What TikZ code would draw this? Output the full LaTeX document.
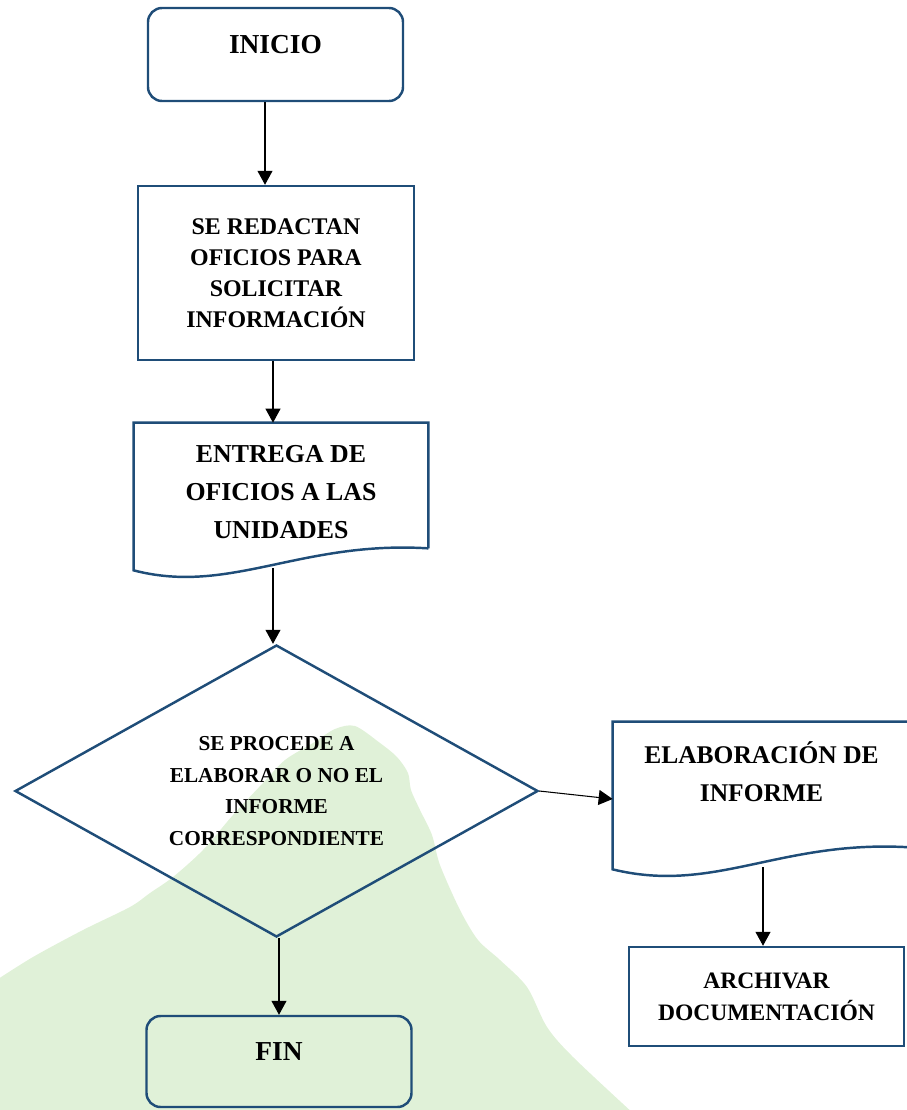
\documentclass[tikz,border=0pt]{standalone}
\usepackage{fontspec}
\setmainfont{Liberation Serif}
\usetikzlibrary{positioning, arrows.meta, shapes.geometric}

\definecolor{lineblue}{RGB}{31,77,120}
\definecolor{bggreen}{RGB}{224,241,216}

\begin{document}
\begin{tikzpicture}[
      box/.style={draw=lineblue, line width=1.4pt, align=center,
                  font=\bfseries\fontsize{13.6}{17.6}\selectfont},
      term/.style={box, rounded corners=8pt, text depth=0.4cm,
                   font=\bfseries\fontsize{15.6}{19}\selectfont},
      doc/.style={align=center, inner sep=0pt,
                  font=\bfseries\fontsize{14.7}{21.5}\selectfont},
      dec/.style={draw=lineblue, line width=1.4pt, diamond, aspect=1.79,
                  inner sep=0pt, align=center,
                  font=\bfseries\fontsize{12.1}{18.1}\selectfont},
      frame/.style={draw=lineblue, line width=1.4pt},
      arr/.style={-{Triangle[width=0.3cm, length=0.28cm]}, line width=0.6pt}]
    \useasboundingbox (0,0) rectangle (18.12,-22.2);
    \fill[bggreen] plot[smooth, tension=0.5] coordinates {
        (-0.1,-19.62) (0.66,-19.14) (1.66,-18.60) (2.60,-18.14) (3.00,-17.86)
        (3.46,-17.54) (4.06,-17.00) (4.66,-16.30) (5.26,-15.66) (5.70,-15.20)
        (6.26,-14.86) (6.70,-14.58) (7.10,-14.52) (7.60,-14.86) (7.94,-15.14)
        (8.16,-15.46) (8.22,-15.80) (8.40,-16.20) (8.64,-16.70) (8.80,-17.30)
        (9.20,-18.20) (9.56,-18.80) (10.00,-19.20) (10.54,-19.74) (10.94,-20.54)
        (11.46,-21.14) (12.70,-22.30)} -- (-0.1,-22.3) -- cycle;

    \node[term, minimum width=5.1cm, minimum height=1.86cm]  (inicio)  at (5.51,-1.09)  {INICIO};
    \node[box, minimum width=5.52cm, minimum height=3.48cm]  (redacta) at (5.52,-5.46)
        {SE REDACTAN\\OFICIOS PARA\\SOLICITAR\\INFORMACIÓN};
    \node[doc, minimum width=5.88cm, minimum height=2.76cm]  (entrega) at (5.62,-9.84)
        {ENTREGA DE\\OFICIOS A LAS\\UNIDADES};
    \draw[frame] ([yshift=0.26cm]entrega.south east) -- (entrega.north east)
        -- (entrega.north west) -- ([yshift=-0.18cm]entrega.south west)
        .. controls +(1.92,-0.5) and +(-2.56,0.16) .. ([yshift=0.26cm]entrega.south east);
    \coordinate (entrega-out) at (5.46,-11.36);
    \node[dec, minimum width=10.46cm, minimum height=5.84cm] (decide)  at (5.53,-15.82)
        {SE PROCEDE A\\ELABORAR O NO EL\\INFORME\\CORRESPONDIENTE};
    \node[doc, minimum width=5.94cm, minimum height=2.0cm,
          font=\bfseries\fontsize{14.5}{21.5}\selectfont]    (elabora) at (15.23,-15.44)
        {ELABORACIÓN DE\\INFORME};
    \draw[frame] ([yshift=-0.5cm]elabora.south east) -- (elabora.north east)
        -- (elabora.north west) -- ([yshift=-0.94cm]elabora.south west)
        .. controls +(2.04,-0.5) and +(-2.6,0.16) .. ([yshift=-0.5cm]elabora.south east);
    \coordinate (elabora-out) at (15.26,-17.34);
    \node[box, minimum width=5.5cm, minimum height=1.98cm,
          font=\bfseries\fontsize{13.4}{18.1}\selectfont]    (archiva) at (15.33,-19.93)
        {ARCHIVAR\\DOCUMENTACIÓN};
    \node[term, minimum width=5.3cm, minimum height=1.82cm]  (fin)     at (5.58,-21.23) {FIN};

    \draw[arr] ([xshift=-0.21cm]inicio.south) -- ([xshift=-0.21cm]inicio.south |- redacta.north);
    \draw[arr] ([xshift=-0.06cm]redacta.south) -- ([xshift=-0.06cm]redacta.south |- entrega.north);
    \draw[arr] (entrega-out) -- (entrega-out |- decide.north);
    \draw[arr] (fin.north |- decide.south) -- (fin.north);
    \draw[arr] (decide.east) -- ([yshift=-0.54cm]elabora.west);
    \draw[arr] (elabora-out) -- (elabora-out |- archiva.north);
  \end{tikzpicture}
\end{document}
